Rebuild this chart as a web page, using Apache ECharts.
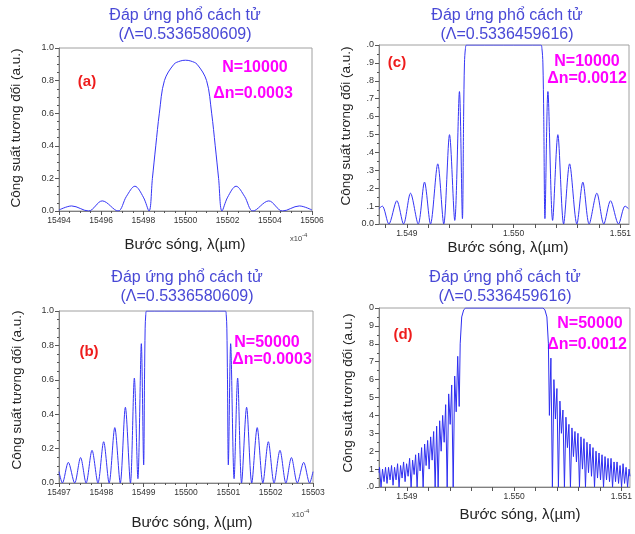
<!DOCTYPE html>
<html><head><meta charset="utf-8">
<script src="https://cdn.jsdelivr.net/npm/echarts@6/dist/echarts.min.js"></script>
<style>html,body{margin:0;padding:0;background:#fff}#c{width:635px;height:534px}</style>
</head><body><div id="c"></div>
<script>
// ---------- Panel (a): N=10000, dn=0.0003 (x in 1e-4 um) ----------
const aWl  = [15494,15494.6,15495.4,15496.05,15496.8,15497.2,15497.6,15498.0,15498.27,15498.43,15498.59,15498.76,15499.0,15499.45,15499.75,15500,15500.25,15500.55,15501.0,15501.24,15501.41,15501.57,15501.73,15502.0,15502.4,15502.8,15503.2,15503.95,15504.6,15505.4,15506];
const aPow = [0.006,0.031,0.0,0.062,0.0,0.09,0.152,0.085,0.0,0.2,0.4,0.6,0.8,0.9,0.92,0.925,0.92,0.9,0.8,0.6,0.4,0.2,0.0,0.085,0.152,0.09,0.0,0.062,0.0,0.031,0.006];
const aXTicks = ['15494','15496','15498','15500','15502','15504','15506'];

// ---------- Panel (b): N=50000, dn=0.0003 (x in 1e-4 um) ----------
const bWl  = [15497.0,15497.08,15497.22,15497.37,15497.51,15497.64,15497.78,15497.92,15498.055,15498.184,15498.318,15498.447,15498.568,15498.687,15498.78,15498.864,15498.945,15499.0,15499.02,15499.035,15499.05,15499.07,15500.93,15500.95,15500.965,15500.98,15501.0,15501.055,15501.136,15501.22,15501.313,15501.432,15501.553,15501.682,15501.816,15501.945,15502.08,15502.22,15502.36,15502.49,15502.63,15502.78,15502.92,15503.0];
const bPow = [0.066,0.0,0.12,0.0,0.148,0.0,0.19,0.0,0.24,0.0,0.322,0.0,0.44,0.0,0.61,0.025,0.81,0.105,0.6,0.9,0.98,1.0,1.0,0.98,0.9,0.6,0.105,0.81,0.025,0.61,0.0,0.44,0.0,0.322,0.0,0.24,0.0,0.19,0.0,0.148,0.0,0.12,0.0,0.066];
const bXTicks = ['15497','15498','15499','15500','15501','15502','15503'];

// ---------- Panel (c): N=10000, dn=0.0012 (x in um) ----------
const cWl  = [1.548739,1.548771,1.548832,1.548907,1.548970,1.549035,1.549107,1.549166,1.549222,1.549290,1.549346,1.549400,1.549449,1.549493,1.549521,1.549532,1.549540,1.549549,1.549560,1.550254,1.550265,1.550274,1.550282,1.550293,1.550321,1.550365,1.550414,1.550468,1.550524,1.550592,1.550648,1.550707,1.550779,1.550844,1.550907,1.550982,1.551043,1.551075];
const cPow = [0.086,0.10,0.0,0.13,0.0,0.172,0.0,0.234,0.0,0.336,0.0,0.499,0.02,0.74,0.03,0.6,0.9,0.98,1.0,1.0,0.98,0.9,0.6,0.03,0.74,0.02,0.499,0.0,0.336,0.0,0.234,0.0,0.172,0.0,0.13,0.0,0.10,0.086];
const cYLabels = ['0.0','.1','.2','.3','.4','.5','.6','.7','.8','.9','.0'];

// ---------- Panel (d): N=50000, dn=0.0012 (x in um) ----------
const dWl = [1.54874,1.5487449,1.5487589,1.5487729,1.5487870,1.5488010,1.5488150,1.5488290,1.5488430,1.5488571,1.5488711,1.5488851,1.5488991,1.5489131,1.5489272,1.5489412,1.5489552,1.5489692,1.5489832,1.5489972,1.5490113,1.5490253,1.5490393,1.5490533,1.5490673,1.5490814,1.5490954,1.5491094,1.5491234,1.5491374,1.5491515,1.5491655,1.5491795,1.5491935,1.5492075,1.5492216,1.5492356,1.5492496,1.5492636,1.5492776,1.5492916,1.5493057,1.5493197,1.5493337,1.5493477,1.5493617,1.5493758,1.5493898,1.5494038,1.5494178,1.5494318,1.5494459,1.5494599,1.5494739,1.5494879,1.5494972,1.5495112,1.5495300,1.5495487,
  1.5502681,1.5502868,1.5503056,1.5503196,1.5503289,1.5503429,1.5503569,1.5503709,1.5503850,1.5503990,1.5504130,1.5504270,1.5504410,1.5504551,1.5504691,1.5504831,1.5504971,1.5505111,1.5505252,1.5505392,1.5505532,1.5505672,1.5505812,1.5505952,1.5506093,1.5506233,1.5506373,1.5506513,1.5506653,1.5506794,1.5506934,1.5507074,1.5507214,1.5507354,1.5507495,1.5507635,1.5507775,1.5507915,1.5508055,1.5508196,1.5508336,1.5508476,1.5508616,1.5508756,1.5508896,1.5509037,1.5509177,1.5509317,1.5509457,1.5509597,1.5509738,1.5509878,1.5510018,1.5510158,1.5510298,1.5510439,1.5510579,1.5510719,1.55108];
const dPow = [0.08,0.11,0.0,0.10,0.03,0.11,0.02,0.11,0.04,0.12,0.01,0.11,0.04,0.13,0.0,0.12,0.05,0.14,0.03,0.13,0.06,0.16,0.0,0.15,0.07,0.18,0.0,0.19,0.09,0.22,0.0,0.24,0.12,0.26,0.10,0.28,0.15,0.31,0.0,0.34,0.0,0.37,0.20,0.40,0.25,0.46,0.0,0.52,0.35,0.57,0.0,0.62,0.42,0.73,0.45,0.8,0.95,0.99,1.0,
  1.0,0.99,0.95,0.8,0.40,0.72,0.0,0.60,0.38,0.55,0.0,0.48,0.30,0.43,0.0,0.39,0.22,0.35,0.0,0.33,0.17,0.31,0.14,0.30,0.0,0.28,0.10,0.27,0.0,0.25,0.08,0.24,0.06,0.22,0.0,0.20,0.05,0.19,0.04,0.18,0.0,0.17,0.04,0.16,0.03,0.16,0.0,0.14,0.03,0.14,0.02,0.12,0.0,0.13,0.02,0.11,0.0,0.10,0.06];
const dYLabels = ['.0','1','2','3','4','5','6','7','8','9','0'];
const cdXLabelVals = [1.549, 1.550, 1.551];
const cdXTickVals = [1.5488,1.549,1.5492,1.5494,1.5496,1.5498,1.55,1.5502,1.5504,1.5506,1.5508,1.551];

const zip = (xs, ys) => xs.map((x, i) => [x, ys[i]]);

const FONT = '"Liberation Sans", Arial, sans-serif';
const LINE = '#3535f5';
const LINE_D = '#2e2ef0';
const TITLE = '#4848d6';
const grids = [
  {left: 59, top: 48, width: 253, height: 163},
  {left: 379, top: 45, width: 250, height: 179},
  {left: 59, top: 311, width: 254, height: 172},
  {left: 379, top: 308, width: 251, height: 179}
].map(g => Object.assign(g, {show: true, borderColor: '#a0a0a0', borderWidth: 1, backgroundColor: 'transparent'}));

const axisLineStyle = {show: true, lineStyle: {color: '#808080', width: 1}};
const tickStyle = {show: true, length: 4, lineStyle: {color: '#555'}};
const minorStyle = (n) => ({show: true, splitNumber: n, length: 2, lineStyle: {color: '#555'}});
const xLab = {fontSize: 8.5, color: '#333', fontFamily: FONT, margin: 5};
const yLab = {fontSize: 9, color: '#333', fontFamily: FONT, margin: 5};

const xAxes = [
  {gridIndex: 0, type: 'value', min: 15494, max: 15506, interval: 2, axisLine: axisLineStyle, axisTick: tickStyle, minorTick: minorStyle(4), splitLine: {show: false},
   axisLabel: Object.assign({formatter: v => aXTicks[Math.round((v - 15494) / 2)] || ''}, xLab)},
  {gridIndex: 1, type: 'value', min: 1.54874, max: 1.55108, axisLine: axisLineStyle, splitLine: {show: false},
   axisTick: Object.assign({customValues: cdXTickVals}, tickStyle),
   axisLabel: Object.assign({customValues: cdXLabelVals, formatter: v => v.toFixed(3)}, xLab)},
  {gridIndex: 2, type: 'value', min: 15497, max: 15503, interval: 1, axisLine: axisLineStyle, axisTick: tickStyle, minorTick: minorStyle(4), splitLine: {show: false},
   axisLabel: Object.assign({formatter: v => bXTicks[Math.round(v - 15497)] || ''}, xLab)},
  {gridIndex: 3, type: 'value', min: 1.54874, max: 1.55108, axisLine: axisLineStyle, splitLine: {show: false},
   axisTick: Object.assign({customValues: cdXTickVals}, tickStyle),
   axisLabel: Object.assign({customValues: cdXLabelVals, formatter: v => v.toFixed(3)}, xLab)}
];
const yAxes = [
  {gridIndex: 0, type: 'value', min: 0, max: 1, interval: 0.2, axisLine: axisLineStyle, axisTick: tickStyle, minorTick: minorStyle(4), splitLine: {show: false},
   axisLabel: Object.assign({formatter: v => v.toFixed(1)}, yLab)},
  {gridIndex: 1, type: 'value', min: 0, max: 1, interval: 0.1, axisLine: axisLineStyle, axisTick: tickStyle, minorTick: minorStyle(2), splitLine: {show: false},
   axisLabel: Object.assign({formatter: v => cYLabels[Math.round(v * 10)]}, yLab)},
  {gridIndex: 2, type: 'value', min: 0, max: 1, interval: 0.2, axisLine: axisLineStyle, axisTick: tickStyle, minorTick: minorStyle(4), splitLine: {show: false},
   axisLabel: Object.assign({formatter: v => v.toFixed(1)}, yLab)},
  {gridIndex: 3, type: 'value', min: 0, max: 1, interval: 0.1, axisLine: axisLineStyle, axisTick: tickStyle, minorTick: minorStyle(2), splitLine: {show: false},
   axisLabel: Object.assign({formatter: v => dYLabels[Math.round(v * 10)]}, yLab)}
];

const mkSeries = (i, data, smooth, color) => ({type: 'line', xAxisIndex: i, yAxisIndex: i, data, smooth, showSymbol: false, symbol: 'none',
  lineStyle: {color: color || LINE, width: 1}, animation: false, clip: true});

const txt = (text, x, y, font, fill, extra) => Object.assign({type: 'text', x, y, style: {text, font, fill, align: 'center', verticalAlign: 'middle'}}, extra || {});
const titleFont = '16px ' + FONT;
const nameFont = '15px ' + FONT;
const yNameFont = '13.5px ' + FONT;
const annFont = 'bold 16px ' + FONT;
const labFont = 'bold 15px ' + FONT;
const yName = 'Công suất tương đối (a.u.)';
const xName = 'Bước sóng, λ(µm)';
const tLine1 = 'Đáp ứng phổ cách tử';
const multRich = {a: {fontSize: 7.5, fontFamily: FONT, fill: '#444', color: '#444', padding: [4, 0, 0, 0]}, b: {fontSize: 6, fontFamily: FONT, fill: '#444', color: '#444', padding: [0, 0, 4, 0]}};

const graphics = [
  // (a)
  txt(tLine1, 185, 16, titleFont, TITLE), txt('(Λ=0.5336580609)', 185, 35, titleFont, TITLE),
  txt(xName, 185, 245, nameFont, '#222'), txt(yName, 16, 128, yNameFont, '#222', {rotation: Math.PI / 2}),
  txt('(a)', 87, 82, labFont, '#ee1c1c'), txt('N=10000', 255, 68, annFont, '#ff00ff'), txt('Δn=0.0003', 253, 94, annFont, '#ff00ff'),
  // (c)
  txt(tLine1, 507, 16, titleFont, TITLE), txt('(Λ=0.5336459616)', 507, 35, titleFont, TITLE),
  txt(xName, 508, 248, nameFont, '#222'), txt(yName, 346, 126, yNameFont, '#222', {rotation: Math.PI / 2}),
  txt('(c)', 397, 63, labFont, '#ee1c1c'), txt('N=10000', 587, 62, annFont, '#ff00ff'), txt('Δn=0.0012', 587, 79, annFont, '#ff00ff'),
  // (b)
  txt(tLine1, 187, 278, titleFont, TITLE), txt('(Λ=0.5336580609)', 187, 297, titleFont, TITLE),
  txt(xName, 192, 523, nameFont, '#222'), txt(yName, 17, 390, yNameFont, '#222', {rotation: Math.PI / 2}),
  txt('(b)', 89, 352, labFont, '#ee1c1c'), txt('N=50000', 267, 343, annFont, '#ff00ff'), txt('Δn=0.0003', 272, 360, annFont, '#ff00ff'),
  // (d)
  txt(tLine1, 505, 278, titleFont, TITLE), txt('(Λ=0.5336459616)', 505, 297, titleFont, TITLE),
  txt(xName, 520, 515, nameFont, '#222'), txt(yName, 348, 393, yNameFont, '#222', {rotation: Math.PI / 2}),
  txt('(d)', 403, 335, labFont, '#ee1c1c'), txt('N=50000', 590, 324, annFont, '#ff00ff'), txt('Δn=0.0012', 587, 345, annFont, '#ff00ff'),
  // x10^-4 multipliers
  {type: 'text', x: 290, y: 231, style: {text: '{a|x10}{b|-4}', rich: multRich}},
  {type: 'text', x: 292, y: 507, style: {text: '{a|x10}{b|-4}', rich: multRich}}
];

const chart = echarts.init(document.getElementById('c'), null, {renderer: 'canvas'});
chart.setOption({
  animation: false,
  backgroundColor: '#fff',
  grid: grids,
  xAxis: xAxes,
  yAxis: yAxes,
  series: [
    mkSeries(0, zip(aWl, aPow), 0.35),
    mkSeries(1, zip(cWl, cPow), 0.3),
    mkSeries(2, zip(bWl, bPow), 0.3),
    mkSeries(3, zip(dWl, dPow), false, LINE_D)
  ],
  graphic: graphics
});
</script></body></html>
